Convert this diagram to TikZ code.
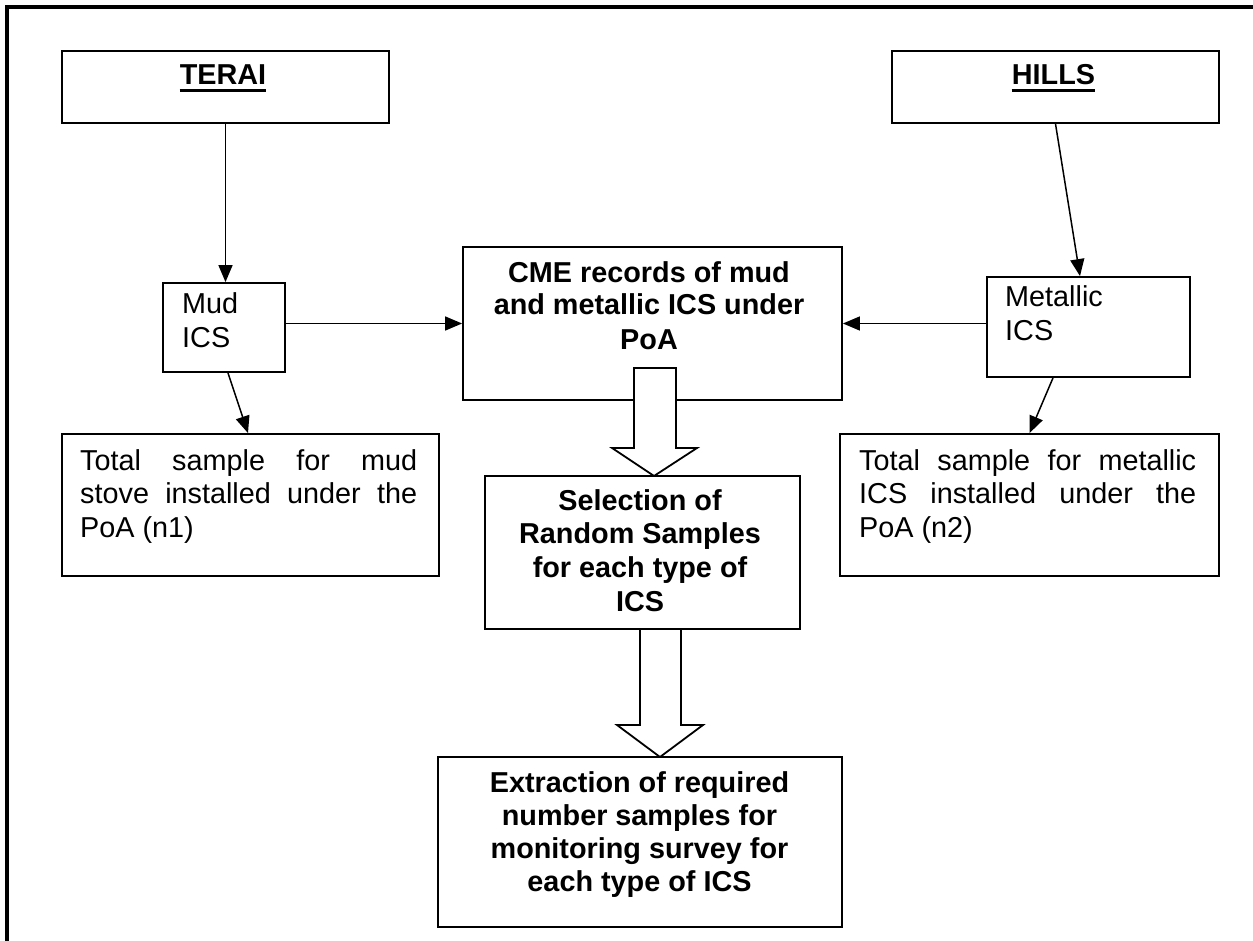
\documentclass[tikz,border=0pt]{standalone}
\usepackage{fontspec}
\setmainfont{Liberation Sans}
\usetikzlibrary{arrows.meta,calc}
\tikzset{
  box/.style={draw, line width=1.8pt, rectangle, inner sep=0pt, fill=white},
  conn/.style={line width=1.5pt, -{Triangle[length=17pt,width=14pt]}},
  blockarrow/.style={draw, line width=1.8pt, fill=white, line join=miter},
  rtxt/.style={inner sep=0pt, anchor=base, font=\fontsize{28.8}{33}\selectfont},
  btxt/.style={inner sep=0pt, anchor=base, font=\bfseries\fontsize{28.8}{33}\selectfont},
  ltxt/.style={inner sep=0pt, anchor=base west, font=\fontsize{28.8}{33}\selectfont},
  uline/.style={line width=3pt}
}
\newcommand{\bx}[5]{\node[box, minimum width={(#4-#2)*1pt}, minimum height={(#5-#3)*1pt}] (#1) at ({(#2+#4)/2},{(#3+#5)/2}) {};}
\begin{document}
\begin{tikzpicture}[x=1pt,y=-1pt]
\useasboundingbox (0,0) rectangle (1253,941);
% outer frame (top and left visible)
\draw[line width=4pt, line join=miter] (7,941) -- (7,7) -- (1253,7);

% boxes
\bx{terai}{62}{51}{389}{123}
\bx{hills}{892}{51}{1219}{123}
\bx{mud}{163}{283}{285}{372}
\bx{metal}{987}{277}{1190}{377}
\bx{cme}{463}{247}{842}{400}
\bx{tmud}{62}{434}{439}{576}
\bx{tmet}{840}{434}{1219}{576}

% block arrow CME -> selection
\draw[blockarrow] (634,368) -- (676,368) -- (676,448) -- (697,448) -- (654,476) -- (612,448) -- (634,448) -- cycle;
% block arrow selection -> extraction
\draw[blockarrow] (640,629) -- (681,629) -- (681,725) -- (703,725) -- (660,757) -- (617,725) -- (640,725) -- cycle;

\bx{sel}{485}{476}{800}{629}
\bx{ext}{438}{757}{842}{927}

% texts
\node[btxt] (tterai) at (223,85) {TERAI};
\draw[uline] ($(tterai.base west)+(0pt,-5.5pt)$) -- ($(tterai.base east)+(0pt,-5.5pt)$);
\node[btxt] (thills) at (1053.5,85) {HILLS};
\draw[uline] ($(thills.base west)+(0pt,-5.5pt)$) -- ($(thills.base east)+(0pt,-5.5pt)$);

\node[ltxt] (mud1) at (182,313) {Mud};
\node[ltxt] (mud2) at (182,347) {ICS};
\node[ltxt] (met1) at (1005,307) {Metallic};
\node[ltxt] (met2) at (1005,341) {ICS};

\node[btxt] (cme1) at (649,283) {CME records of mud};
\node[btxt] (cme2) at (649,315) {and metallic ICS under};
\node[btxt] (cme3) at (649,349) {PoA};

\node[ltxt] (tm1) at (80,470) {\makebox[337pt][s]{Total sample for mud}};
\node[ltxt] (tm2) at (80,503) {\makebox[337pt][s]{stove installed under the}};
\node[ltxt] (tm3) at (80,537) {PoA (n1)};

\node[ltxt] (tt1) at (859,470) {\makebox[337pt][s]{Total sample for metallic}};
\node[ltxt] (tt2) at (859,503) {\makebox[337pt][s]{ICS installed under the}};
\node[ltxt] (tt3) at (859,537) {PoA (n2)};

\node[btxt] (sel1) at (640,510) {Selection of};
\node[btxt] (sel2) at (640,543) {Random Samples};
\node[btxt] (sel3) at (640,577) {for each type of};
\node[btxt] (sel4) at (640,611) {ICS};

\node[btxt] (ex1) at (639.5,792) {Extraction of required};
\node[btxt] (ex2) at (639.5,825) {number samples for};
\node[btxt] (ex3) at (639.5,858) {monitoring survey for};
\node[btxt] (ex4) at (639.5,891) {each type of ICS};

% connectors
\draw[conn] (terai.south) -- (terai.south |- mud.north);
\draw[conn] (hills.south) -- ([xshift=-8.5pt]metal.north);
\draw[conn] (mud.east |- cme.west) -- (cme.west);
\draw[conn] (metal.west |- cme.east) -- (cme.east);
\draw[conn] ([xshift=4pt]mud.south) -- ([xshift=-2.5pt]tmud.north);
\draw[conn] ([xshift=-35.5pt]metal.south) -- (tmet.north);
\end{tikzpicture}
\end{document}
